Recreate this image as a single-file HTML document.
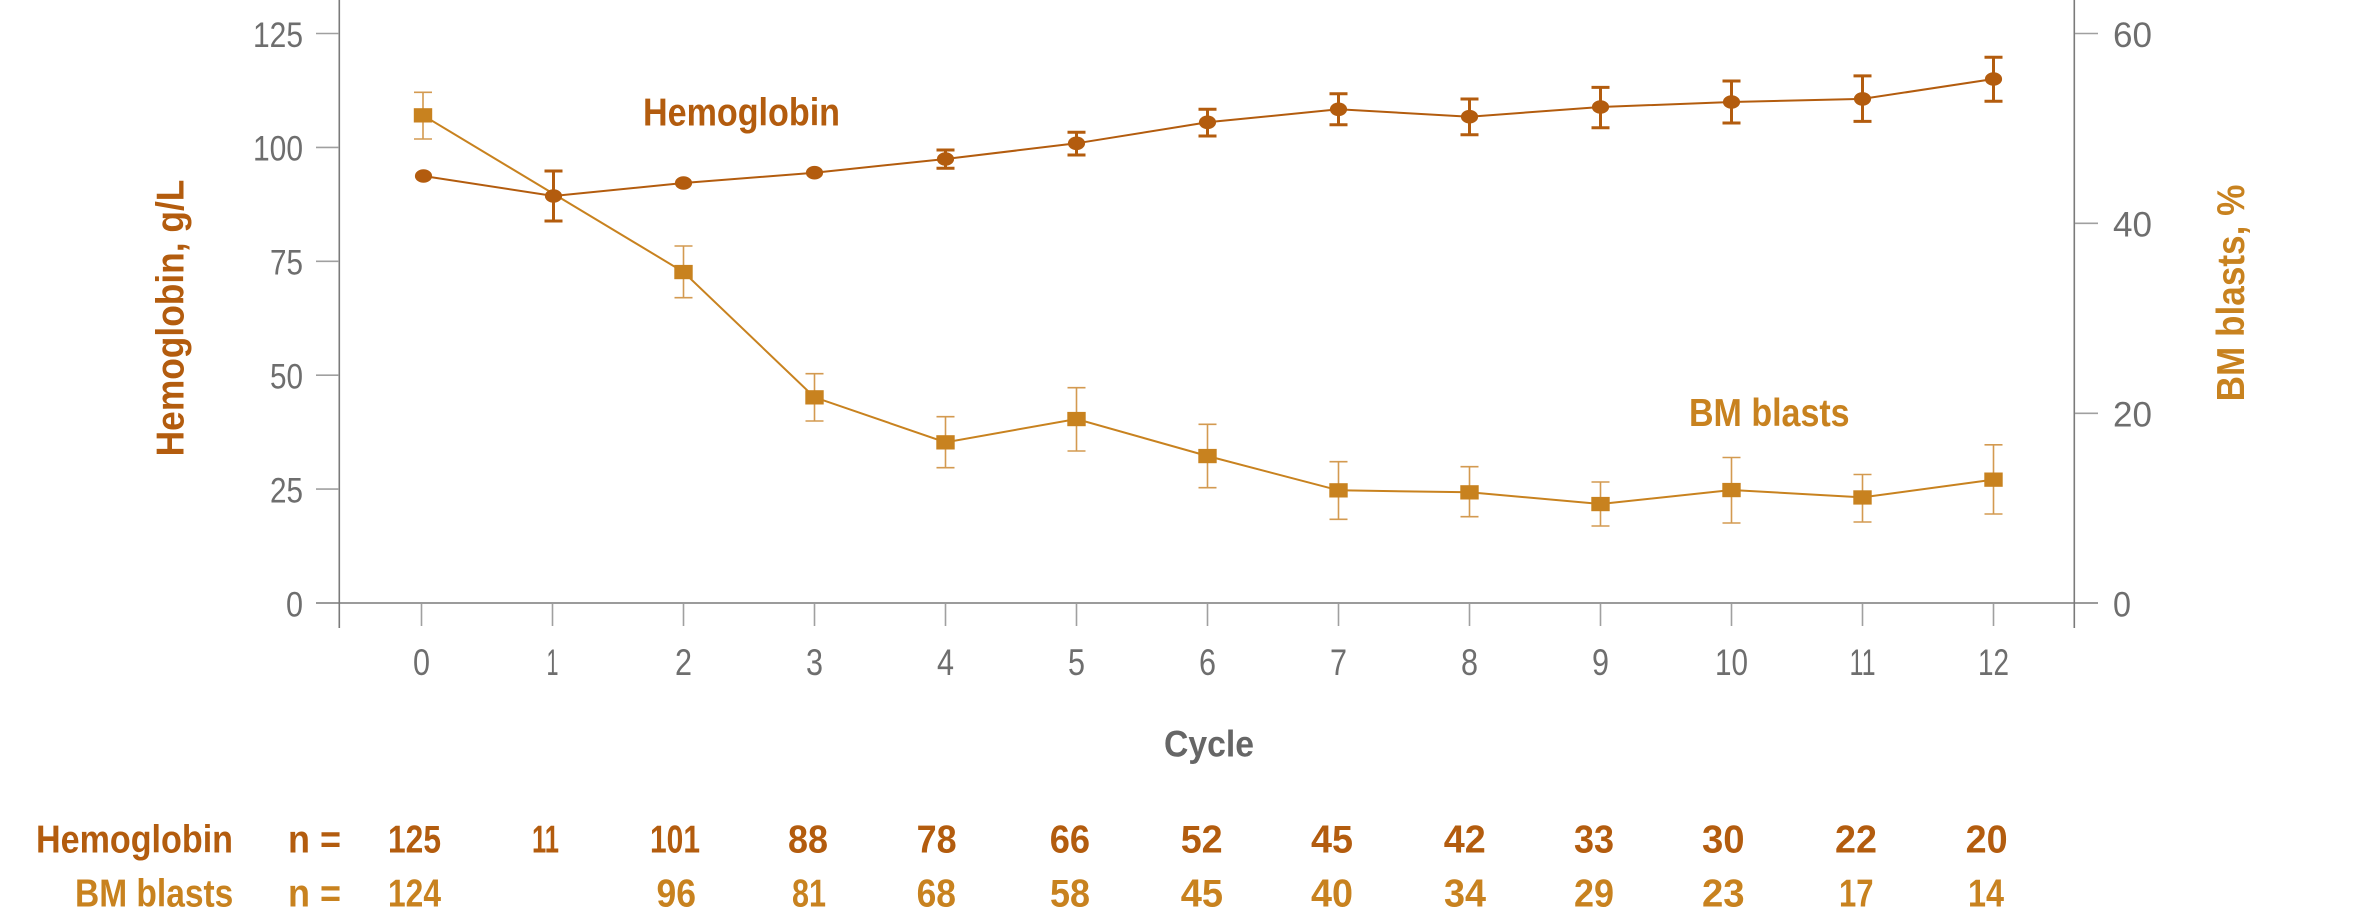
<!DOCTYPE html>
<html><head><meta charset="utf-8"><style>
html,body{margin:0;padding:0;background:#fff;}
svg{display:block;}
text{font-family:"Liberation Sans",sans-serif;}
.tk{fill:#6e6e6e;font-size:35px;}
.xt{fill:#6e6e6e;font-size:37px;text-anchor:middle;}
.hb{fill:#b35c0e;font-weight:bold;font-size:38.5px;}
.bm{fill:#c8821f;font-weight:bold;font-size:38.5px;}
</style></head><body>
<svg width="2353" height="915" viewBox="0 0 2353 915" xmlns="http://www.w3.org/2000/svg">
<rect width="2353" height="915" fill="#fff"/>
<!-- axes -->
<g stroke="#7a7a7a" stroke-width="1.6" fill="none">
<line x1="339.3" y1="0" x2="339.3" y2="628"/>
<line x1="2074.3" y1="0" x2="2074.3" y2="628"/>
<line x1="316" y1="603" x2="2098" y2="603"/>
</g>
<g stroke="#a0a0a0" stroke-width="1.6">
<line x1="316" y1="489.1" x2="339" y2="489.1"/>
<line x1="316" y1="375.2" x2="339" y2="375.2"/>
<line x1="316" y1="261.3" x2="339" y2="261.3"/>
<line x1="316" y1="147.4" x2="339" y2="147.4"/>
<line x1="316" y1="33.5" x2="339" y2="33.5"/>
<line x1="2075" y1="413.3" x2="2098" y2="413.3"/>
<line x1="2075" y1="223.3" x2="2098" y2="223.3"/>
<line x1="2075" y1="33.5" x2="2098" y2="33.5"/>
<line x1="421.5" y1="604" x2="421.5" y2="626"/>
<line x1="552.5" y1="604" x2="552.5" y2="626"/>
<line x1="683.5" y1="604" x2="683.5" y2="626"/>
<line x1="814.5" y1="604" x2="814.5" y2="626"/>
<line x1="945.5" y1="604" x2="945.5" y2="626"/>
<line x1="1076.5" y1="604" x2="1076.5" y2="626"/>
<line x1="1207.5" y1="604" x2="1207.5" y2="626"/>
<line x1="1338.5" y1="604" x2="1338.5" y2="626"/>
<line x1="1469.5" y1="604" x2="1469.5" y2="626"/>
<line x1="1600.5" y1="604" x2="1600.5" y2="626"/>
<line x1="1731.5" y1="604" x2="1731.5" y2="626"/>
<line x1="1862.5" y1="604" x2="1862.5" y2="626"/>
<line x1="1993.5" y1="604" x2="1993.5" y2="626"/>
</g>
<!-- left tick labels -->
<g class="tk" text-anchor="end">
<text x="303" y="616.3" textLength="17" lengthAdjust="spacingAndGlyphs">0</text>
<text x="303" y="502.4" textLength="33" lengthAdjust="spacingAndGlyphs">25</text>
<text x="303" y="388.5" textLength="33" lengthAdjust="spacingAndGlyphs">50</text>
<text x="303" y="274.6" textLength="33" lengthAdjust="spacingAndGlyphs">75</text>
<text x="303" y="160.7" textLength="50" lengthAdjust="spacingAndGlyphs">100</text>
<text x="303" y="46.8" textLength="50" lengthAdjust="spacingAndGlyphs">125</text>
</g>
<!-- right tick labels -->
<g class="tk">
<text x="2113" y="616.3" textLength="18" lengthAdjust="spacingAndGlyphs">0</text>
<text x="2113" y="426.6" textLength="39" lengthAdjust="spacingAndGlyphs">20</text>
<text x="2113" y="236.6" textLength="39" lengthAdjust="spacingAndGlyphs">40</text>
<text x="2113" y="46.8" textLength="39" lengthAdjust="spacingAndGlyphs">60</text>
</g>
<!-- x tick labels -->
<g class="xt">
<text x="421.5" y="675" textLength="17" lengthAdjust="spacingAndGlyphs">0</text>
<text x="552.5" y="675" textLength="12" lengthAdjust="spacingAndGlyphs">1</text>
<text x="683.5" y="675" textLength="17" lengthAdjust="spacingAndGlyphs">2</text>
<text x="814.5" y="675" textLength="17" lengthAdjust="spacingAndGlyphs">3</text>
<text x="945.5" y="675" textLength="17" lengthAdjust="spacingAndGlyphs">4</text>
<text x="1076.5" y="675" textLength="17" lengthAdjust="spacingAndGlyphs">5</text>
<text x="1207.5" y="675" textLength="17" lengthAdjust="spacingAndGlyphs">6</text>
<text x="1338.5" y="675" textLength="17" lengthAdjust="spacingAndGlyphs">7</text>
<text x="1469.5" y="675" textLength="17" lengthAdjust="spacingAndGlyphs">8</text>
<text x="1600.5" y="675" textLength="17" lengthAdjust="spacingAndGlyphs">9</text>
<text x="1731.5" y="675" textLength="33" lengthAdjust="spacingAndGlyphs">10</text>
<text x="1862.5" y="675" textLength="26" lengthAdjust="spacingAndGlyphs">11</text>
<text x="1993.5" y="675" textLength="31" lengthAdjust="spacingAndGlyphs">12</text>
</g>
<text x="1164" y="756.7" fill="#666" font-weight="bold" font-size="37" textLength="90" lengthAdjust="spacingAndGlyphs">Cycle</text>
<!-- axis titles -->
<text class="hb" transform="translate(183.7,318) rotate(-90)" text-anchor="middle" textLength="276.7" lengthAdjust="spacingAndGlyphs">Hemoglobin, g/L</text>
<text class="bm" transform="translate(2244,293) rotate(-90)" text-anchor="middle" textLength="216.7" lengthAdjust="spacingAndGlyphs">BM blasts, %</text>
<!-- annotations -->
<text class="hb" x="643" y="125.7" textLength="197" lengthAdjust="spacingAndGlyphs">Hemoglobin</text>
<text class="bm" x="1689" y="426" textLength="160.6" lengthAdjust="spacingAndGlyphs">BM blasts</text>
<!-- BM blasts series -->
<g stroke="#d39a50" stroke-width="1.6" fill="none">
<path d="M423 92.3V139M414 92.3H432M414 139H432"/>
<path d="M683.5 246V297.7M674.5 246H692.5M674.5 297.7H692.5"/>
<path d="M814.5 373.7V421M805.5 373.7H823.5M805.5 421H823.5"/>
<path d="M945.5 416.7V467.7M936.5 416.7H954.5M936.5 467.7H954.5"/>
<path d="M1076.5 387.7V451M1067.5 387.7H1085.5M1067.5 451H1085.5"/>
<path d="M1207.5 424.3V487.7M1198.5 424.3H1216.5M1198.5 487.7H1216.5"/>
<path d="M1338.5 461.7V519.3M1329.5 461.7H1347.5M1329.5 519.3H1347.5"/>
<path d="M1469.5 466.7V516.7M1460.5 466.7H1478.5M1460.5 516.7H1478.5"/>
<path d="M1600.5 482V526M1591.5 482H1609.5M1591.5 526H1609.5"/>
<path d="M1731.5 457.5V523M1722.5 457.5H1740.5M1722.5 523H1740.5"/>
<path d="M1862.5 474.5V522M1853.5 474.5H1871.5M1853.5 522H1871.5"/>
<path d="M1993.5 444.8V514M1984.5 444.8H2002.5M1984.5 514H2002.5"/>
</g>
<polyline fill="none" stroke="#c8821f" stroke-width="2" points="423,115.3 683.5,272 814.5,397.3 945.5,442.3 1076.5,419 1207.5,456 1338.5,490.3 1469.5,492.3 1600.5,504 1731.5,490 1862.5,497.4 1993.5,479.6"/>
<g fill="#c8821f">
<rect x="413.8" y="108.2" width="18.4" height="14.3"/>
<rect x="674.3" y="264.9" width="18.4" height="14.3"/>
<rect x="805.3" y="390.2" width="18.4" height="14.3"/>
<rect x="936.3" y="435.2" width="18.4" height="14.3"/>
<rect x="1067.3" y="411.9" width="18.4" height="14.3"/>
<rect x="1198.3" y="448.9" width="18.4" height="14.3"/>
<rect x="1329.3" y="483.2" width="18.4" height="14.3"/>
<rect x="1460.3" y="485.2" width="18.4" height="14.3"/>
<rect x="1591.3" y="496.9" width="18.4" height="14.3"/>
<rect x="1722.3" y="482.9" width="18.4" height="14.3"/>
<rect x="1853.3" y="490.3" width="18.4" height="14.3"/>
<rect x="1984.3" y="472.5" width="18.4" height="14.3"/>
</g>
<!-- Hemoglobin series -->
<g stroke="#b35c0e" stroke-width="3" fill="none">
<path d="M553.5 171V221M544.5 171H562.5M544.5 221H562.5"/>
<path d="M945.5 150V168.3M936.5 150H954.5M936.5 168.3H954.5"/>
<path d="M1076.5 132.3V155M1067.5 132.3H1085.5M1067.5 155H1085.5"/>
<path d="M1207.5 109.3V136M1198.5 109.3H1216.5M1198.5 136H1216.5"/>
<path d="M1338.5 93.7V124.7M1329.5 93.7H1347.5M1329.5 124.7H1347.5"/>
<path d="M1469.5 99V134.7M1460.5 99H1478.5M1460.5 134.7H1478.5"/>
<path d="M1600.5 87.4V127.7M1591.5 87.4H1609.5M1591.5 127.7H1609.5"/>
<path d="M1731.5 81V123M1722.5 81H1740.5M1722.5 123H1740.5"/>
<path d="M1862.5 75.9V121.4M1853.5 75.9H1871.5M1853.5 121.4H1871.5"/>
<path d="M1993.5 57.3V101.2M1984.5 57.3H2002.5M1984.5 101.2H2002.5"/>
</g>
<polyline fill="none" stroke="#b35c0e" stroke-width="2" points="423.5,176 553.5,196 683.5,183 814.5,172.7 945.5,159 1076.5,143.3 1207.5,122.3 1338.5,109.3 1469.5,116.7 1600.5,107 1731.5,102 1862.5,98.9 1993.5,79"/>
<g fill="#b35c0e">
<ellipse cx="423.5" cy="176" rx="8.6" ry="6.8"/>
<ellipse cx="553.5" cy="196" rx="8.6" ry="6.8"/>
<ellipse cx="683.5" cy="183" rx="8.6" ry="6.8"/>
<ellipse cx="814.5" cy="172.7" rx="8.6" ry="6.8"/>
<ellipse cx="945.5" cy="159" rx="8.6" ry="6.8"/>
<ellipse cx="1076.5" cy="143.3" rx="8.6" ry="6.8"/>
<ellipse cx="1207.5" cy="122.3" rx="8.6" ry="6.8"/>
<ellipse cx="1338.5" cy="109.3" rx="8.6" ry="6.8"/>
<ellipse cx="1469.5" cy="116.7" rx="8.6" ry="6.8"/>
<ellipse cx="1600.5" cy="107" rx="8.6" ry="6.8"/>
<ellipse cx="1731.5" cy="102" rx="8.6" ry="6.8"/>
<ellipse cx="1862.5" cy="98.9" rx="8.6" ry="6.8"/>
<ellipse cx="1993.5" cy="79" rx="8.6" ry="6.8"/>
</g>
<!-- n table -->
<g class="hb">
<text x="36" y="852.7" textLength="197" lengthAdjust="spacingAndGlyphs">Hemoglobin</text>
<text x="288" y="852.7" textLength="53" lengthAdjust="spacingAndGlyphs">n =</text>
<text x="388" y="852.7" textLength="53" lengthAdjust="spacingAndGlyphs">125</text>
<text x="532" y="852.7" textLength="27" lengthAdjust="spacingAndGlyphs">11</text>
<text x="650" y="852.7" textLength="50" lengthAdjust="spacingAndGlyphs">101</text>
<text x="788" y="852.7" textLength="40" lengthAdjust="spacingAndGlyphs">88</text>
<text x="916.6" y="852.7" textLength="40" lengthAdjust="spacingAndGlyphs">78</text>
<text x="1049.7" y="852.7" textLength="40.3" lengthAdjust="spacingAndGlyphs">66</text>
<text x="1180.7" y="852.7" textLength="42" lengthAdjust="spacingAndGlyphs">52</text>
<text x="1311" y="852.7" textLength="42" lengthAdjust="spacingAndGlyphs">45</text>
<text x="1443.8" y="852.7" textLength="42" lengthAdjust="spacingAndGlyphs">42</text>
<text x="1574" y="852.7" textLength="40" lengthAdjust="spacingAndGlyphs">33</text>
<text x="1702" y="852.7" textLength="42.6" lengthAdjust="spacingAndGlyphs">30</text>
<text x="1835" y="852.7" textLength="42" lengthAdjust="spacingAndGlyphs">22</text>
<text x="1965.6" y="852.7" textLength="42" lengthAdjust="spacingAndGlyphs">20</text>
</g>
<g class="bm">
<text x="75" y="906.7" textLength="158.3" lengthAdjust="spacingAndGlyphs">BM blasts</text>
<text x="288" y="906.7" textLength="53" lengthAdjust="spacingAndGlyphs">n =</text>
<text x="388" y="906.7" textLength="53" lengthAdjust="spacingAndGlyphs">124</text>
<text x="656.5" y="906.7" textLength="39.5" lengthAdjust="spacingAndGlyphs">96</text>
<text x="792" y="906.7" textLength="34" lengthAdjust="spacingAndGlyphs">81</text>
<text x="916.6" y="906.7" textLength="39.4" lengthAdjust="spacingAndGlyphs">68</text>
<text x="1050" y="906.7" textLength="40" lengthAdjust="spacingAndGlyphs">58</text>
<text x="1180.7" y="906.7" textLength="42.3" lengthAdjust="spacingAndGlyphs">45</text>
<text x="1311" y="906.7" textLength="42" lengthAdjust="spacingAndGlyphs">40</text>
<text x="1444" y="906.7" textLength="42" lengthAdjust="spacingAndGlyphs">34</text>
<text x="1574" y="906.7" textLength="40" lengthAdjust="spacingAndGlyphs">29</text>
<text x="1702" y="906.7" textLength="42.6" lengthAdjust="spacingAndGlyphs">23</text>
<text x="1839" y="906.7" textLength="34.5" lengthAdjust="spacingAndGlyphs">17</text>
<text x="1968" y="906.7" textLength="36" lengthAdjust="spacingAndGlyphs">14</text>
</g>
</svg>
</body></html>
